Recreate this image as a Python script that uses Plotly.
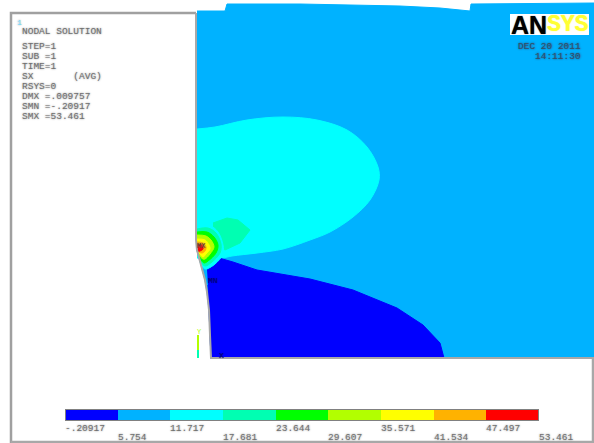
import plotly.graph_objects as go

# Contour band levels and legend
levels = [-0.20917, 5.754, 11.717, 17.681, 23.644, 29.607, 35.571, 41.534, 47.497, 53.461]
level_labels = ["-.20917", "5.754", "11.717", "17.681", "23.644", "29.607", "35.571", "41.534", "47.497", "53.461"]
band_colors = ["#0000FF", "#00B2FF", "#00FFFF", "#00FFB2", "#00FF00", "#B2FF00", "#FFFF00", "#FFB200", "#FF0000"]

# Info text
info_lines = ["NODAL SOLUTION", "STEP=1", "SUB =1", "TIME=1", "SX       (AVG)", "RSYS=0", "DMX =.009757", "SMN =-.20917", "SMX =53.461"]
info_y = [31, 46, 56, 66, 76, 86, 96, 106, 116]
date_lines = ["DEC 20 2011", "14:11:30"]

# Traced contour outlines (screen-read values)
domain_x = [197, 225, 227, 260, 300, 350, 400, 440, 470, 471, 594, 594, 211, 210, 209, 207, 205, 201, 197]
domain_y = [11, 11, 4, 4, 4, 5, 6, 8, 11, 4, 3, 358, 358, 335, 310, 292, 280, 265, 250]

lobe_x = [197, 215, 247, 283, 317, 347, 367, 378, 379, 370, 353, 330, 310, 283, 257, 232, 222, 197]
lobe_y = [129, 127, 120, 117, 120, 130, 147, 167, 180, 200, 217, 232, 240, 249, 253, 256, 258, 258]

patch_x = [213, 227, 238, 250, 240, 225, 212, 213]
patch_y = [223, 218, 220, 230, 243, 250, 240, 233]

low_x = [207, 214, 219, 233, 257, 310, 353, 397, 423, 440, 444, 211, 210, 209, 208]
low_y = [270, 266, 258, 262, 270, 279, 290, 308, 325, 343, 358, 358, 335, 310, 285]

hot_rings = [
    ("#00FFFF", [197, 209, 218, 223, 223, 215, 205, 201, 197], [226, 225, 232, 245, 254, 264, 269, 264, 250]),
    ("#00FFB2", [197, 208, 216, 221, 220, 212, 205, 201, 197], [229, 228, 233, 244, 253, 262, 266, 262, 250]),
    ("#00FF00", [197, 207, 214, 218, 216, 208, 204, 200, 197], [232, 232, 237, 245, 253, 261, 263, 258, 250]),
    ("#B2FF00", [197, 206, 211, 214, 210, 205, 203, 199, 197], [235, 236, 240, 247, 254, 259, 259, 255, 250]),
    ("#FFFF00", [197, 205, 209, 210, 206, 203, 200, 197], [239, 240, 245, 249, 254, 257, 254, 250]),
    ("#FFB200", [197, 203, 206, 205, 202, 199, 197], [242, 243, 247, 251, 253, 252, 249]),
    ("#FF0000", [197, 202, 203, 200, 198, 197], [245, 245, 249, 251, 251, 248]),
]

edge_x = [196, 196, 197, 201, 205, 207, 209, 210, 211, 211, 594]
edge_y = [13, 240, 250, 265, 280, 292, 310, 335, 358, 358, 358]
frame_x = [11, 11, 196]
frame_y = [443, 13, 13]
frame_r_x = [11, 593, 593]
frame_r_y = [442, 442, 358]
triad_x = [198, 198]
triad_colors = ["#B2FF00", "#00FFB2"]

fig = go.Figure()

def poly(xs, ys, color, shape="linear"):
    fig.add_trace(go.Scatter(x=xs, y=ys, mode="lines", fill="toself", fillcolor=color,
                             line=dict(color=color, width=1, shape=shape),
                             hoverinfo="skip", showlegend=False))

def stroke(xs, ys, color, width):
    fig.add_trace(go.Scatter(x=xs, y=ys, mode="lines", line=dict(color=color, width=width),
                             hoverinfo="skip", showlegend=False))

poly(domain_x, domain_y, band_colors[1])
poly(lobe_x, lobe_y, band_colors[2], "spline")
poly(patch_x, patch_y, band_colors[3])
poly(low_x, low_y, band_colors[0])
for color, xs, ys in hot_rings:
    poly(xs, ys, color, "spline")

stroke(frame_x, frame_y, "#A0A0A0", 2.5)
stroke(frame_r_x, frame_r_y, "#A8A8A8", 2.5)
stroke(edge_x, edge_y, "#A8A8A8", 2)
stroke(triad_x, [358, 350], triad_colors[1], 2)
stroke(triad_x, [350, 335], triad_colors[0], 2)

# Legend colour bar on its own value axis
mids = [(a + b) / 2 for a, b in zip(levels[:-1], levels[1:])]
widths = [b - a for a, b in zip(levels[:-1], levels[1:])]
fig.add_trace(go.Bar(x=mids, y=[1] * len(mids), width=widths, xaxis="x2", yaxis="y2",
                     marker=dict(color=band_colors, line=dict(width=0)),
                     hoverinfo="skip", showlegend=False))

MONO = "Liberation Mono"
SOFT = "0 0 2px #888"
ann = []

def label(x, y, text, size=9.5, color="#707070", anchor="left", xref="x", family=MONO, bold=False, shadow=SOFT):
    ann.append(dict(x=x, y=y, xref=xref, yref="y", text=f"<b>{text}</b>" if bold else text,
                    showarrow=False, xanchor=anchor, yanchor="middle",
                    font=dict(family=family, size=size, color=color, shadow=shadow), borderpad=0, borderwidth=0))

for line, y in zip(info_lines, info_y):
    label(22, y, line.replace(" ", "&nbsp;"))
label(17, 22, "1", color="#66DDFF", size=8)

for i, (lv, txt) in enumerate(zip(levels, level_labels)):
    label(lv, 428 if i % 2 == 0 else 437, txt, xref="x2", size=9.5)

label(518, 46, date_lines[0], color="#33506A", size=9.5, shadow="0 0 2px #335")
label(581, 56, date_lines[1], color="#33506A", size=9.5, anchor="right", shadow="0 0 2px #335")

label(197, 246, "MX", color="#553322", size=7)
label(208, 280, "MN", color="#000080", size=8, shadow="0 0 1px #000080")
label(197, 332, "Y", color="#B2FF00", size=7, shadow="none")
label(219, 355, "X", color="#000080", size=8, shadow="0 0 1px #000080")

# Logo
fig.add_shape(type="rect", x0=510, x1=589, y0=14, y1=35, fillcolor="white", line=dict(width=0), layer="above")
label(511, 25, "AN", color="black", size=25, family="Liberation Sans", bold=True, shadow="0 0 1px #333")
label(589, 25, "SYS", color="#FFFF33", size=23, family=MONO, bold=True, anchor="right", shadow="0 0 1px #FFFF33")

# Legend bar frame
W, H = 594.0, 443.0
fig.add_shape(type="rect", x0=levels[0], x1=levels[-1], y0=0, y1=1, xref="x2", yref="y2",
              line=dict(color="#808080", width=2), fillcolor="rgba(0,0,0,0)", layer="above")

fig.update_layout(
    width=594, height=443, margin=dict(l=0, r=0, t=0, b=0),
    paper_bgcolor="white", plot_bgcolor="white", annotations=ann,
    barmode="overlay", bargap=0,
    xaxis=dict(range=[0, W], visible=False, domain=[0, 1], fixedrange=True),
    yaxis=dict(range=[H, 0], visible=False, domain=[0, 1], fixedrange=True),
    xaxis2=dict(range=[levels[0], levels[-1]], visible=False, domain=[65 / W, 539 / W], anchor="y2"),
    yaxis2=dict(range=[0, 1], visible=False, domain=[1 - 421 / H, 1 - 409 / H], anchor="x2"),
)

fig.write_html("out.html", config=dict(displayModeBar=False),
               post_script="document.body.style.margin='0';document.body.style.overflow='hidden';")
